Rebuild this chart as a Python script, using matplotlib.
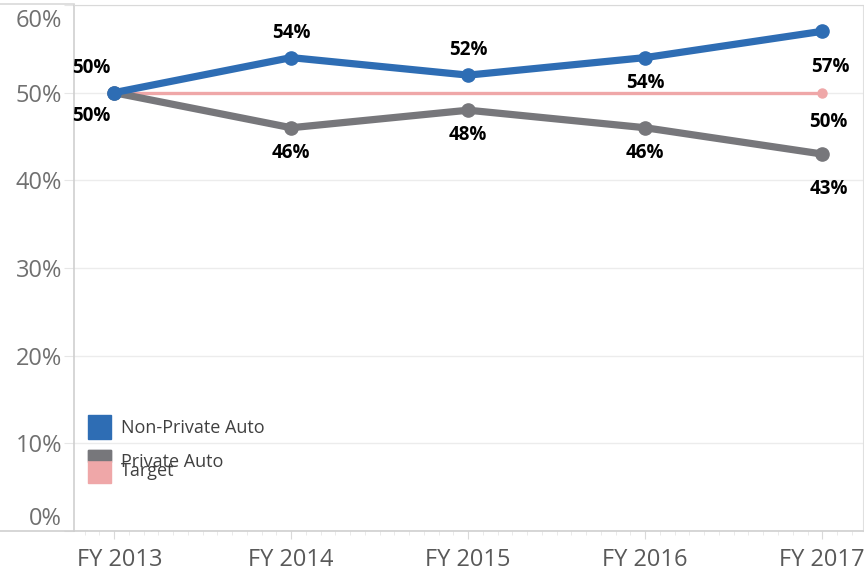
import matplotlib
matplotlib.use("Agg")
import matplotlib.pyplot as plt
from matplotlib.lines import Line2D
from matplotlib.patches import Rectangle
from matplotlib.ticker import MultipleLocator, FuncFormatter
import matplotlib.transforms as mtransforms

plt.rcParams['font.family'] = ['Open Sans', 'DejaVu Sans']

years = ["FY 2013", "FY 2014", "FY 2015", "FY 2016", "FY 2017"]
non_private = [50, 54, 52, 54, 57]
private = [50, 46, 48, 46, 43]
target = [50, 50, 50, 50, 50]
np_label_below = [False, False, False, True, True]

c_blue = "#2E6DB4"
c_gray = "#77777B"
c_pink = "#EFA7A8"

fig = plt.figure(figsize=(8.64, 5.73), dpi=100)
ax = fig.add_axes([74/864, 42/573, 789/864, 526/573])

x = list(range(len(years)))
ax.plot(x, target, color=c_pink, lw=2.4, marker='o', ms=6.5, markevery=[0, 4], zorder=3)
ax.plot(x, private, color=c_gray, lw=5.2, marker='o', ms=9.5, zorder=4, solid_capstyle='round')
ax.plot(x, non_private, color=c_blue, lw=5.2, marker='o', ms=9.5, zorder=5, solid_capstyle='round')

ax.set_xlim(-0.226, 4.23)
ax.set_ylim(0, 60)

lab_kw = dict(textcoords='offset points', ha='center', va='center',
              fontsize=13.5, fontweight='bold', color='black', zorder=6)
for i, v in enumerate(non_private):
    if i == 0:
        ax.annotate(f"{v}%", (i, v), xytext=(-16, 18), **lab_kw)
    elif np_label_below[i]:
        ax.annotate(f"{v}%", (i, v), xytext=(0 if i < 4 else 6, -18 if i < 4 else -26), **lab_kw)
    else:
        ax.annotate(f"{v}%", (i, v), xytext=(0, 18), **lab_kw)
for i, v in enumerate(private):
    if i == 0:
        ax.annotate(f"{v}%", (i, v), xytext=(-16, -17), **lab_kw)
    elif i == 4:
        ax.annotate(f"{v}%", (i, v), xytext=(5, -25), **lab_kw)
    else:
        ax.annotate(f"{v}%", (i, v), xytext=(0, -18), **lab_kw)
ax.annotate(f"{target[-1]}%", (4, target[-1]), xytext=(4, -21), **lab_kw)

ax.set_xticks(x)
ax.set_xticklabels(years)
ax.xaxis.set_minor_locator(MultipleLocator(1/12))
ax.yaxis.set_major_locator(MultipleLocator(10))
ax.yaxis.set_major_formatter(FuncFormatter(lambda v, p: f"{int(v)}%"))

ax.tick_params(axis='x', which='major', length=6, color='#d9d9d9', labelsize=17,
               labelcolor='#595959', pad=6)
ax.tick_params(axis='x', which='minor', length=3, color='#e6e6e6')
ax.tick_params(axis='y', which='major', length=7, color='#e6e6e6', labelsize=17,
               labelcolor='#707070', pad=1.5)

fig.canvas.draw()
for t in ax.get_yticklabels():
    if t.get_text() == "60%":
        t.set_va('top')
        t.set_transform(t.get_transform() + mtransforms.ScaledTranslation(0, -3/72, fig.dpi_scale_trans))
    if t.get_text() == "0%":
        t.set_va('bottom')
xl = ax.get_xticklabels()
xl[0].set_transform(xl[0].get_transform() + mtransforms.ScaledTranslation(4/72, 0, fig.dpi_scale_trans))

ax.grid(axis='y', color='#ececec', lw=1)
ax.set_axisbelow(True)
for s in ['left', 'bottom']:
    ax.spines[s].set_color('#cfcfcf')
    ax.spines[s].set_linewidth(1.2)
ax.spines['top'].set_color('#d9d9d9')
ax.spines['right'].set_color('#e0e0e0')

# outer lines across full figure width
fig.add_artist(Line2D([0, 74/864], [1 - 531/573]*2, color='#cfcfcf', lw=1.2))
fig.add_artist(Line2D([0, 74/864], [1 - 4/573]*2, color='#d9d9d9', lw=1.2))

# legend (manual, reproducing the overlapped entries)
leg_items = [("Non-Private Auto", c_blue, 415, 439, 428),
             ("Private Auto", c_gray, 450, 462, 462),
             ("Target", c_pink, 460, 483, 471)]
for name, col, y0, y1, ty in leg_items:
    fig.add_artist(Rectangle((88/864, 1 - y1/573), 23/864, (y1 - y0)/573,
                             transform=fig.transFigure, color=col, zorder=7))
for name, col, y0, y1, ty in [leg_items[2], leg_items[1], leg_items[0]]:
    fig.text(121/864, 1 - ty/573, name, ha='left', va='center', fontsize=13,
             color='#404040', zorder=8)
fig.add_artist(Rectangle((88/864, 1 - 460/573), 23/864, 10/573,
                         transform=fig.transFigure, color=c_gray, zorder=9))

fig.savefig("out.png", dpi=100)
